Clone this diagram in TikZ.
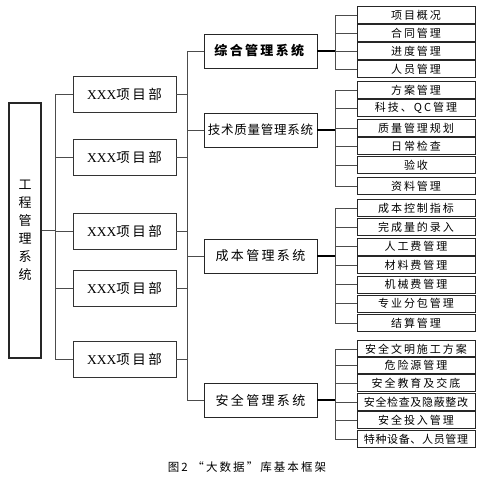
\documentclass[tikz,border=0pt]{standalone}
\usepackage{fontspec}
\setmainfont{Liberation Serif}
\newfontfamily\cjk{Noto Sans CJK SC}
\newfontfamily\cjkw[LetterSpace=18]{Noto Sans CJK SC}
\newfontfamily\cjkn[LetterSpace=6]{Noto Sans CJK SC}

\begin{document}
\begin{tikzpicture}[x=1pt, y=-1pt,
    root/.style={draw=black!85, line width=2pt, minimum width=32pt, minimum height=255pt,
      inner sep=0pt, align=center, font=\cjk\fontsize{13}{18}\selectfont},
    proj/.style={draw=black!80, line width=0.8pt, minimum width=103pt, minimum height=36pt,
      inner sep=0pt, font=\fontsize{13.5}{13.5}\selectfont},
    sys/.style={draw=black!85, line width=0.8pt, minimum width=113pt, minimum height=34pt,
      inner sep=0pt, font=\cjkw\fontsize{13}{13}\selectfont},
    leaf/.style={draw=black!85, line width=0.8pt, minimum width=118pt, minimum height=17pt,
      inner sep=0pt, font=\cjkw\fontsize{11}{11}\selectfont},
    link/.style={black!70, line width=1pt},
    trunk/.style={black, line width=1.8pt}]
    \useasboundingbox (0,0) rectangle (487,480);

    % 总线的横坐标
    \coordinate (bp) at (55,0);  % 项目部总线
    \coordinate (bs) at (187,0); % 系统总线
    \coordinate (ba) at (335,0);
    \coordinate (bb) at (335,0);
    \coordinate (bc) at (335,0);
    \coordinate (bd) at (335,0);

    % 工程管理系统
    \node[root] (root) at (25,230.5) {工\\程\\管\\理\\系\\统};

    % 项目部
    \foreach \k/\y in {1/94, 2/157, 3/231, 4/288, 5/359}
      \node[proj] (p\k) at (124.5,\y) {XXX{\cjkw 项目部}};

    % 四个子系统
    \node[sys] (s1) at (260.5,51) {\textbf{综合管理系统}};
    \node[sys, font=\cjkn\fontsize{12.5}{12.5}\selectfont] (s2) at (260.5,130) {技术质量管理系统};
    \node[sys] (s3) at (260.5,256) {成本管理系统};
    \node[sys] (s4) at (260.5,400) {安全管理系统};

    % 各子系统的功能模块
    \foreach \k/\y/\t in {1/15/项目概况, 2/33/合同管理, 3/51/进度管理, 4/69/人员管理}
      \node[leaf] (a\k) at (416,\y) {\t};
    \foreach \k/\y/\t in {1/90/方案管理, 2/108/科技、QC管理, 3/128/质量管理规划,
        4/146/日常检查, 5/165/验收, 6/186/资料管理}
      \node[leaf] (b\k) at (416,\y) {\t};
    \foreach \k/\y/\t in {1/208/成本控制指标, 2/227/完成量的录入, 3/246.5/人工费管理,
        4/265/材料费管理, 5/284.5/机械费管理, 6/303.5/专业分包管理, 7/323/结算管理}
      \node[leaf] (c\k) at (416,\y) {\t};
    \foreach \k/\y/\t in {1/349/安全文明施工方案, 2/365/危险源管理, 3/383/安全教育及交底,
        4/402/{\cjkn 安全检查及隐蔽整改}, 5/420/安全投入管理, 6/439/{\cjkn 特种设备、人员管理}}
      \node[leaf] (d\k) at (416,\y) {\t};

    % 工程管理系统 -> 项目部
    \draw[link] (root.east) -- (bp |- root.east);
    \draw[link] (bp |- p1.west) -- (bp |- p5.west);
    \foreach \k in {1,...,5}
      \draw[link] (bp |- p\k.west) -- (p\k.west);

    % 项目部 -> 子系统
    \foreach \k in {1,...,5}
      \draw[link] (p\k.east) -- (bs |- p\k.east);
    \draw[link] (bs |- s1.west) -- (bs |- s4.west);
    \foreach \k in {1,...,4}
      \draw[link] (bs |- s\k.west) -- (s\k.west);

    % 子系统 -> 功能模块
    \draw[trunk] (s1.east) -- (ba |- s1.east);
    \draw[link] (ba |- a1.west) -- (ba |- a4.west);
    \foreach \k in {1,...,4}
      \draw[link] (ba |- a\k.west) -- (a\k.west);

    \draw[trunk] (s2.east) -- (bb |- s2.east);
    \draw[link] (bb |- b1.west) -- (bb |- b6.west);
    \foreach \k in {1,...,6}
      \draw[link] (bb |- b\k.west) -- (b\k.west);

    \draw[trunk] (s3.east) -- (bc |- s3.east);
    \draw[link] (bc |- c1.west) -- (bc |- c7.west);
    \foreach \k in {1,...,7}
      \draw[link] (bc |- c\k.west) -- (c\k.west);

    \draw[trunk] (s4.east) -- (bd |- s4.east);
    \draw[link] (bd |- d1.west) -- (bd |- d6.west);
    \foreach \k in {1,...,6}
      \draw[link] (bd |- d\k.west) -- (d\k.west);

    % 图题
    \node[font=\cjkw\fontsize{11.5}{11.5}\selectfont] (cap) at (247,467) {图2\ “大数据”库基本框架};

  \end{tikzpicture}
\end{document}
